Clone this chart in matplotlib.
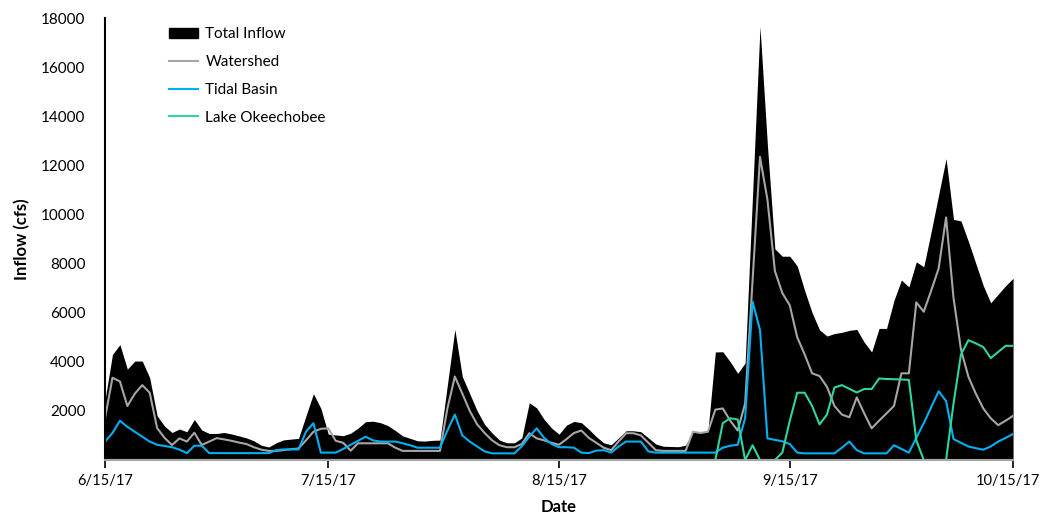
import numpy as np
import pandas as pd
import matplotlib
matplotlib.use("Agg")
import matplotlib.pyplot as plt
import matplotlib.transforms as mtransforms
from matplotlib.patches import Patch
from matplotlib.lines import Line2D

plt.rcParams['font.family'] = ['Lato', 'DejaVu Sans']

# daily values, 6/15/17 .. 10/15/17
dates = pd.date_range("2017-06-15", "2017-10-15", freq="D")

total_inflow = [
    2450, 4300, 4700, 3700, 4030, 4030, 3350, 1800, 1380, 1120,
    1260, 1150, 1650, 1220, 1080, 1080, 1120, 1060, 980, 900,
    780, 600, 530, 700, 820, 850, 880, 1800, 2700, 2100,
    1050, 1020, 990, 1090, 1300, 1560, 1580, 1520, 1400, 1200,
    980, 880, 780, 770, 800, 810, 3060, 5320, 3400, 2700,
    2000, 1450, 1100, 810, 700, 700, 900, 2330, 2120, 1650,
    1300, 1050, 1420, 1570, 1520, 1250, 950, 700, 620, 900,
    1190, 1190, 1150, 900, 650, 560, 550, 540, 600, 1150,
    1130, 1150, 4400, 4410, 4000, 3530, 3950, 10800, 17650, 12800,
    8600, 8300, 8300, 7900, 6900, 6000, 5300, 5050, 5150, 5200,
    5280, 5320, 4800, 4400, 5360, 5360, 6500, 7330, 7050, 8070,
    7870, 9300, 10800, 12280, 9800, 9740, 8900, 8000, 7100, 6400,
    6750, 7100, 7400]

watershed = [
    1700, 3350, 3200, 2200, 2700, 3050, 2740, 1300, 900, 610,
    880, 750, 1110, 610, 750, 890, 840, 780, 710, 650,
    520, 420, 370, 370, 400, 440, 470, 800, 1150, 1270,
    1290, 780, 700, 380, 680, 680, 680, 680, 680, 500,
    370, 370, 370, 370, 370, 370, 2100, 3400, 2710, 2000,
    1450, 1100, 800, 600, 520, 520, 650, 1090, 880, 800,
    700, 620, 850, 1100, 1200, 900, 700, 500, 400, 750,
    1090, 1090, 1000, 700, 400, 370, 370, 370, 370, 1150,
    1100, 1150, 2050, 2100, 1600, 1200, 2300, 7300, 12350, 10600,
    7700, 6800, 6300, 5000, 4300, 3530, 3420, 2980, 2200, 1850,
    1740, 2550, 1900, 1290, 1600, 1900, 2200, 3530, 3530, 6420,
    6040, 6900, 7800, 9880, 6600, 4500, 3390, 2700, 2100, 1700,
    1420, 1600, 1800]

tidal_basin = [
    750, 1100, 1600, 1350, 1150, 950, 750, 620, 570, 520,
    420, 280, 580, 580, 280, 280, 280, 280, 280, 280,
    280, 280, 280, 400, 430, 430, 430, 1150, 1500, 300,
    300, 300, 450, 620, 780, 950, 800, 750, 750, 750,
    680, 600, 500, 500, 500, 500, 1200, 1850, 1000, 750,
    550, 350, 270, 270, 270, 270, 560, 950, 1290, 900,
    650, 520, 520, 500, 300, 280, 380, 400, 300, 550,
    750, 750, 750, 350, 300, 300, 300, 300, 300, 300,
    300, 300, 300, 500, 580, 620, 1700, 6450, 5300, 880,
    820, 760, 650, 300, 270, 270, 270, 270, 270, 500,
    750, 400, 270, 270, 270, 270, 600, 450, 300, 900,
    1500, 2150, 2800, 2400, 850, 700, 550, 480, 420, 550,
    750, 900, 1060]

lake_okeechobee = [0] * 82 + [
    0, 1500, 1700, 1650, 0, 600, 0, 0, 0, 300,
    1600, 2740, 2740, 2200, 1450, 1850, 2950, 3050, 2900, 2750,
    2890, 2890, 3320, 3300, 3290, 3280, 3260, 800, 0, 0,
    0, 0, 2300, 4300, 4880, 4750, 4600, 4150, 4400, 4650,
    4650]

tick_dates = pd.to_datetime(["2017-06-15", "2017-07-15", "2017-08-15",
                             "2017-09-15", "2017-10-15"])
tick_labels = ["6/15/17", "7/15/17", "8/15/17", "9/15/17", "10/15/17"]
y_ticks = np.arange(2000, 18001, 2000)

c_gray = '#a6a6a6'
c_blue = '#00b0f0'
c_green = '#2fd69c'

fig = plt.figure(figsize=(10.43, 5.18), dpi=100)
ax = fig.add_axes([0.1007, 0.112, 0.8706, 0.853])

ax.fill_between(dates, 0, total_inflow, color='black', lw=0)
ax.plot(dates, watershed, color=c_gray, lw=1.5)
ax.plot(dates, tidal_basin, color=c_blue, lw=1.5)
ax.plot(dates, lake_okeechobee, color=c_green, lw=1.5)

ax.set_xlim(dates[0], dates[-1])
ax.set_ylim(0, 18000)
ax.set_xticks(tick_dates)
ax.set_xticklabels(tick_labels, fontsize=10.5)
ax.set_yticks(y_ticks)
ax.set_yticklabels([str(v) for v in y_ticks], fontsize=11)
ax.tick_params(axis='y', length=0, pad=14)
ax.tick_params(axis='x', length=6, width=1.2, color='black', pad=4)

# last date label sits against the right edge, nudge it in a little
last = ax.get_xticklabels()[-1]
last.set_transform(last.get_transform() +
                   mtransforms.ScaledTranslation(-5 / 100, 0, fig.dpi_scale_trans))

for s in ['top', 'right']:
    ax.spines[s].set_visible(False)
ax.spines['left'].set_color('black')
ax.spines['left'].set_linewidth(1.5)
ax.spines['bottom'].set_color(c_gray)
ax.spines['bottom'].set_linewidth(1.5)

ax.set_xlabel("Date", fontsize=12, fontweight='bold', labelpad=8)
ax.set_ylabel("Inflow (cfs)", fontsize=12, fontweight='bold', labelpad=8)

handles = [Patch(facecolor='black', edgecolor='black'),
           Line2D([], [], color=c_gray, lw=1.5),
           Line2D([], [], color=c_blue, lw=1.5),
           Line2D([], [], color=c_green, lw=1.5)]
labels = ["Total Inflow", "Watershed", "Tidal Basin", "Lake Okeechobee"]
ax.legend(handles, labels, loc='upper left', bbox_to_anchor=(0.055, 1.01),
          frameon=False, fontsize=11, handlelength=1.9, handletextpad=0.5,
          labelspacing=0.9)

fig.savefig("out.png", dpi=100)
